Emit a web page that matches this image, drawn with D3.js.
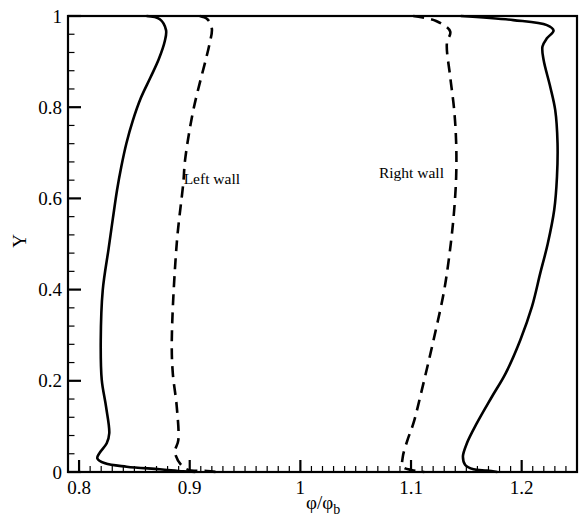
<!DOCTYPE html>
<html><head><meta charset="utf-8">
<script src="https://cdn.jsdelivr.net/npm/d3@7"></script>
<style>
html,body{margin:0;padding:0;background:#fff;}
</style></head>
<body><svg id="chart" width="579" height="518"></svg>
<script>
// ---- data (phi/phi_b, Y) ----
const leftSolidX  = [0.861,0.873,0.8786,0.8775,0.872,0.8645,0.8558,0.8485,0.8428,0.8382,0.8343,0.8305,0.8267,0.8214,0.8196,0.8205,0.8244,0.8273,0.825,0.8183,0.8165,0.8235,0.843,0.873,0.894,0.905];
const leftSolidY  = [1.0,0.993,0.969,0.945,0.905,0.865,0.82,0.77,0.721,0.67,0.618,0.555,0.49,0.399,0.289,0.202,0.143,0.085,0.063,0.041,0.030,0.019,0.0116,0.006,0.0015,0];
const leftDashX   = [0.909,0.916,0.920,0.918,0.9033,0.8958,0.8942,0.8883,0.8838,0.8847,0.8883,0.8897,0.8867,0.8958,0.9157,0.925];
const leftDashY   = [1.0,0.993,0.972,0.940,0.794,0.684,0.634,0.502,0.289,0.217,0.143,0.070,0.042,0.008,0.002,0];
const rightDashX  = [1.102,1.1227,1.1354,1.1324,1.1354,1.139,1.1408,1.1408,1.139,1.136,1.130,1.1203,1.1098,1.1022,1.0968,1.0926,1.0926,1.101,1.108,1.112];
const rightDashY  = [1.0,0.989,0.966,0.940,0.867,0.794,0.7215,0.6476,0.5746,0.502,0.399,0.289,0.180,0.107,0.070,0.0336,0.0116,0.004,0.001,0];
const rightSolidX = [1.145,1.1924,1.2228,1.2288,1.2228,1.2188,1.2198,1.2258,1.2303,1.2324,1.2319,1.2294,1.2235,1.2168,1.2093,1.1987,1.1855,1.1731,1.1595,1.1505,1.1469,1.149,1.1565,1.1686,1.178];
const rightSolidY = [1.0,0.991,0.980,0.968,0.951,0.933,0.904,0.845,0.794,0.7215,0.6476,0.5746,0.5,0.436,0.3625,0.289,0.2164,0.165,0.107,0.063,0.0336,0.0154,0.006,0.003,0];
const xTickValues = [0.8,0.9,1.0,1.1,1.2];
const xTickLabels = ["0.8","0.9","1","1.1","1.2"];
const yTickValues = [0,0.2,0.4,0.6,0.8,1.0];
const yTickLabels = ["0","0.2","0.4","0.6","0.8","1"];
const labels = [{text:"Left wall", x:0.8945, y:0.632},{text:"Right wall", x:1.0710, y:0.645}];

const FONT = "'Liberation Serif','Times New Roman',Times,serif";
const svg = d3.select("#chart");
const x = d3.scaleLinear().domain([0.79,1.25]).range([68,577]);
const y = d3.scaleLinear().domain([0,1]).range([472,16]);

// minor ticks
const xMinor = d3.range(79,126).map(d=>d/100).filter(v=>!xTickValues.some(t=>Math.abs(t-v)<1e-9));
const yMinor = d3.range(0,26).map(d=>d*0.04).filter(v=>!yTickValues.some(t=>Math.abs(t-v)<1e-9));

const ax = svg.append("g");
ax.selectAll(".xmin").data(xMinor).join("line")
  .attr("x1",d=>x(d)).attr("x2",d=>x(d)).attr("y1",472).attr("y2",466)
  .attr("stroke","#000").attr("stroke-width",1.2);
ax.selectAll(".xmaj").data(xTickValues).join("line")
  .attr("x1",d=>x(d)).attr("x2",d=>x(d)).attr("y1",472).attr("y2",460)
  .attr("stroke","#000").attr("stroke-width",2.2);
ax.selectAll(".ymin").data(yMinor).join("line")
  .attr("y1",d=>y(d)).attr("y2",d=>y(d)).attr("x1",68).attr("x2",74.5)
  .attr("stroke","#000").attr("stroke-width",1.2);
ax.selectAll(".ymaj").data(yTickValues).join("line")
  .attr("y1",d=>y(d)).attr("y2",d=>y(d)).attr("x1",68).attr("x2",81)
  .attr("stroke","#000").attr("stroke-width",2.2);

// frame
svg.append("rect").attr("x",68).attr("y",16).attr("width",509).attr("height",456)
  .attr("fill","none").attr("stroke","#000").attr("stroke-width",2.2);

// tick labels
svg.selectAll(".xl").data(xTickValues).join("text")
  .attr("x",d=>x(d)).attr("y",494).attr("text-anchor","middle")
  .attr("font-family",FONT).attr("font-size",19).text((d,i)=>xTickLabels[i]);
svg.selectAll(".yl").data(yTickValues).join("text")
  .attr("x",62).attr("y",d=>y(d)+6.5).attr("text-anchor","end")
  .attr("font-family",FONT).attr("font-size",19).text((d,i)=>yTickLabels[i]);

// axis titles
svg.append("text").attr("transform","translate(26,241) rotate(-90)")
  .attr("text-anchor","middle").attr("font-family",FONT).attr("font-size",19).text("Y");
const xt = svg.append("text").attr("x",306).attr("y",509).attr("font-family",FONT).attr("font-size",19);
xt.append("tspan").text("φ/φ");
xt.append("tspan").attr("dy",5).attr("font-size",14).text("b");

// curves
const line = d3.line().x(d=>x(d[0])).y(d=>y(d[1])).curve(d3.curveCatmullRom.alpha(0.5));
const series = [
  {xs:leftSolidX, ys:leftSolidY, dash:null},
  {xs:leftDashX, ys:leftDashY, dash:"11,7"},
  {xs:rightDashX, ys:rightDashY, dash:"11,7"},
  {xs:rightSolidX, ys:rightSolidY, dash:null}
];
series.forEach(s=>{
  const pts = s.xs.map((v,i)=>[v,s.ys[i]]);
  svg.append("path").attr("d",line(pts)).attr("fill","none")
    .attr("stroke","#000").attr("stroke-width",2.6)
    .attr("stroke-dasharray",s.dash);
});

// annotations
svg.selectAll(".ann").data(labels).join("text")
  .attr("x",d=>x(d.x)).attr("y",d=>y(d.y)).attr("font-family",FONT)
  .attr("font-size",15.5).text(d=>d.text);
</script></body></html>
